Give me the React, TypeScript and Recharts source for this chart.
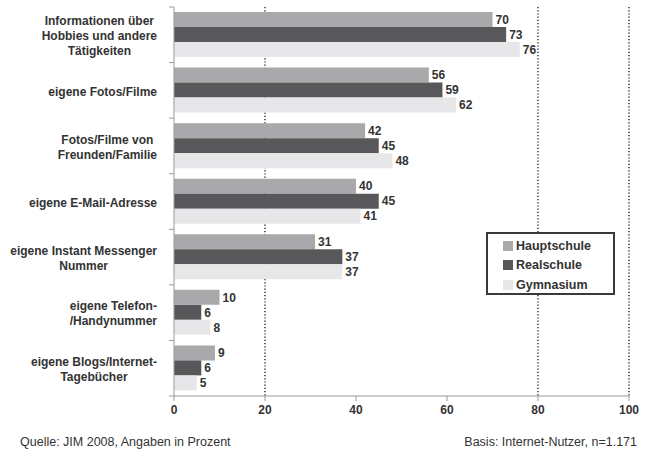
import React from 'react';
import {
  BarChart,
  Bar,
  XAxis,
  YAxis,
  CartesianGrid,
  LabelList,
} from 'recharts';

const categories = [
  'Informationen über\nHobbies und andere\nTätigkeiten',
  'eigene Fotos/Filme',
  'Fotos/Filme von\nFreunden/Familie',
  'eigene E-Mail-Adresse',
  'eigene Instant Messenger\nNummer',
  'eigene Telefon-\n/Handynummer',
  'eigene Blogs/Internet-\nTagebücher',
];
const hauptschule = [70, 56, 42, 40, 31, 10, 9];
const realschule = [73, 59, 45, 45, 37, 6, 6];
const gymnasium = [76, 62, 48, 41, 37, 8, 5];
const xTicks = [0, 20, 40, 60, 80, 100];
const gridAt = [20, 80, 100];

const series = [
  { key: 'hauptschule', name: 'Hauptschule', color: '#a9a9ab' },
  { key: 'realschule', name: 'Realschule', color: '#58585a' },
  { key: 'gymnasium', name: 'Gymnasium', color: '#e7e7e9' },
];

const data = categories.map((name, i) => ({
  name,
  hauptschule: hauptschule[i],
  realschule: realschule[i],
  gymnasium: gymnasium[i],
}));

const FONT = '"Liberation Sans", Arial, sans-serif';
const TEXT = '#333';
const AXIS = '#999';

const W = 650;
const H = 450;
const margin = { top: 7, right: 21, bottom: 24, left: 0 };
const yAxisWidth = 174;
const plotHeight = H - margin.top - margin.bottom - 30;
const band = plotHeight / categories.length;

let ctx: CanvasRenderingContext2D | null = null;
const measure = (s: string) => {
  if (!ctx) ctx = document.createElement('canvas').getContext('2d');
  if (!ctx) return s.length * 6.5;
  ctx.font = `bold 12px ${FONT}`;
  return ctx.measureText(s).width;
};

const CategoryTick = (props: any) => {
  const { x, y, payload, index } = props;
  const lines = String(payload.value).split('\n');
  const maxW = Math.max(...lines.map(measure));
  const right = x - 9;
  const cx = right - maxW / 2;
  const lineH = 15;
  const y0 = y - ((lines.length - 1) * lineH) / 2 + 1;
  const axisX = x + 8;
  return (
    <g>
      <line x1={axisX - 5} x2={axisX} y1={y - band / 2} y2={y - band / 2} stroke={AXIS} />
      {index === categories.length - 1 && (
        <line x1={axisX - 5} x2={axisX} y1={y + band / 2} y2={y + band / 2} stroke={AXIS} />
      )}
      <text
        textAnchor="middle"
        fontFamily={FONT}
        fontWeight="bold"
        fontSize={12}
        fill={TEXT}
      >
        {lines.map((l, i) => (
          <tspan key={i} x={cx} y={y0 + i * lineH} dy="0.35em">
            {l}
          </tspan>
        ))}
      </text>
    </g>
  );
};

const LegendBox = () => (
  <div
    style={{
      position: 'absolute',
      left: 486,
      top: 232,
      boxSizing: 'border-box',
      width: 129,
      height: 63,
      border: '2px solid #3a3a3a',
      background: '#fff',
      padding: '2px 0 0 15px',
      fontFamily: FONT,
      fontWeight: 'bold',
      fontSize: 12.5,
      color: TEXT,
    }}
  >
    {series.map((s) => (
      <div key={s.key} style={{ display: 'flex', alignItems: 'center', height: 19.5 }}>
        <span
          style={{
            display: 'inline-block',
            width: 10,
            height: 10,
            background: s.color,
            marginRight: 3,
          }}
        />
        {s.name}
      </div>
    ))}
  </div>
);

export default function App() {
  return (
    <div style={{ position: 'absolute', left: 0, top: 0, width: W, height: H, background: '#fff' }}>
      <BarChart
        width={W}
        height={H}
        data={data}
        layout="vertical"
        margin={margin}
        barGap={0}
        barCategoryGap="9%"
      >
        <CartesianGrid
          horizontal={false}
          stroke="#333"
          strokeWidth={1.5}
          strokeDasharray="1.2 2"
          verticalCoordinatesGenerator={({ xAxis, offset }: any) =>
            gridAt.map((v) =>
              xAxis && typeof xAxis.scale === 'function'
                ? xAxis.scale(v)
                : offset.left + (v / 100) * offset.width
            )
          }
        />
        <XAxis
          type="number"
          domain={[0, 100]}
          ticks={xTicks}
          stroke={AXIS}
          tickSize={5}
          tickMargin={4}
          tick={{ fill: TEXT, fontFamily: FONT, fontWeight: 'bold', fontSize: 12 }}
        />
        <YAxis
          type="category"
          dataKey="name"
          width={yAxisWidth}
          stroke={AXIS}
          tickLine={false}
          tick={<CategoryTick />}
          interval={0}
        />
        {series.map((s) => (
          <Bar
            key={s.key}
            dataKey={s.key}
            name={s.name}
            fill={s.color}
            isAnimationActive={false}
          >
            <LabelList
              dataKey={s.key}
              position="right"
              offset={3}
              fill={TEXT}
              fontFamily={FONT}
              fontWeight="bold"
              fontSize={12}
            />
          </Bar>
        ))}
      </BarChart>
      <LegendBox />
      <div
        style={{
          position: 'absolute',
          left: 20,
          top: 435,
          fontFamily: FONT,
          fontSize: 12.5,
          color: TEXT,
        }}
      >
        Quelle: JIM 2008, Angaben in Prozent
      </div>
      <div
        style={{
          position: 'absolute',
          right: 13,
          top: 435,
          fontFamily: FONT,
          fontSize: 12.5,
          color: TEXT,
        }}
      >
        Basis: Internet-Nutzer, n=1.171
      </div>
    </div>
  );
}
